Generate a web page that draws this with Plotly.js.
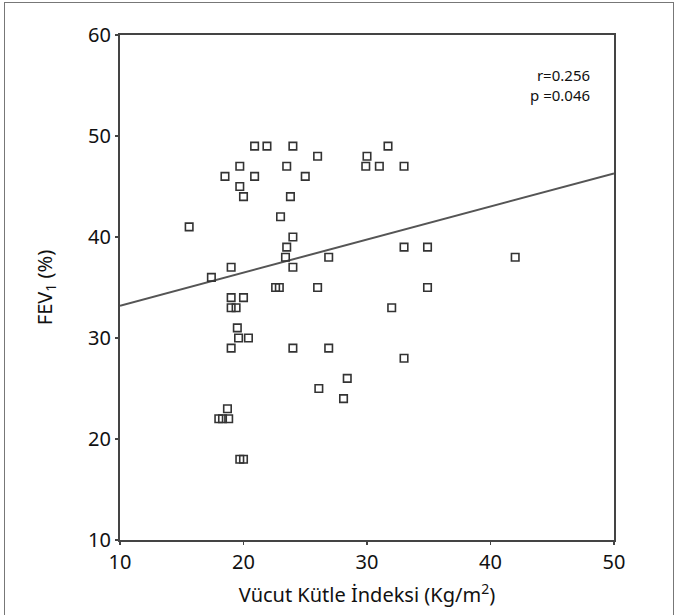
<!DOCTYPE html>
<html>
<head>
<meta charset="utf-8">
<script src="https://cdn.plot.ly/plotly-3.0.1.min.js"></script>
<style>
  html, body { margin: 0; padding: 0; background: #fff; }
  #wrap { position: relative; width: 675px; height: 615px; }
  #chart { width: 675px; height: 615px; }
  #frame { position: absolute; left: 4px; top: 2px; width: 668px; height: 620px;
           border-left: 1.5px solid #777; border-top: 1.5px solid #777; border-right: 1.5px solid #777;
           pointer-events: none; }
</style>
</head>
<body>
<div id="wrap">
  <div id="chart"></div>
  <div id="frame"></div>
</div>
<script>
// Body mass index (x) and FEV1 % (y)
const bmi = [15.6, 17.4, 18.0, 18.3, 18.8, 18.7, 18.5, 19.0, 19.0, 19.0, 19.4, 19.0, 19.5, 19.6, 20.4,
             20.0, 19.7, 19.7, 20.0, 19.7, 20.0, 20.9, 21.9, 20.9, 22.6, 22.9, 23.0, 23.4, 23.5, 23.5,
             23.8, 24.0, 24.0, 24.0, 24.0, 25.0, 26.0, 26.0, 26.1, 26.9, 26.9, 28.1, 28.4, 30.0, 29.9,
             31.0, 31.7, 33.0, 33.0, 34.9, 34.9, 32.0, 33.0, 42.0];
const fev1 = [41, 36, 22, 22, 22, 23, 46, 37, 34, 33, 33, 29, 31, 30, 30,
              34, 47, 45, 44, 18, 18, 49, 49, 46, 35, 35, 42, 38, 39, 47,
              44, 49, 40, 37, 29, 46, 48, 35, 25, 38, 29, 24, 26, 48, 47,
              47, 49, 47, 39, 39, 35, 33, 28, 38];
// Fitted regression line end points
const fitX = [10, 50];
const fitY = [33.2, 46.3];
const xTicks = [10, 20, 30, 40, 50];
const yTicks = [10, 20, 30, 40, 50, 60];
const statsText = "r=0.256<br>p =0.046";
const xTitle = "Vücut Kütle İndeksi (Kg/m<sup>2</sup>)";
const yTitle = "FEV<sub>1</sub> (%)";

const traces = [
  {
    x: fitX, y: fitY, mode: "lines", type: "scatter",
    line: { color: "#555", width: 2 }, hoverinfo: "skip", showlegend: false
  },
  {
    x: bmi, y: fev1, mode: "markers", type: "scatter",
    marker: { symbol: "square-open", size: 7.5, color: "#333", line: { width: 1.6, color: "#333" } },
    showlegend: false
  }
];

const font = "'Noto Sans', 'Open Sans', sans-serif";
const layout = {
  width: 675, height: 615,
  margin: { l: 120, r: 61, t: 35, b: 75 },
  paper_bgcolor: "#fff", plot_bgcolor: "#fff",
  font: { family: font, color: "#111" },
  xaxis: {
    range: [10, 50], tickvals: xTicks, ticktext: xTicks.map(String),
    showgrid: false, zeroline: false,
    showline: true, linecolor: "#444", linewidth: 2, mirror: true,
    ticks: "outside", ticklen: 3, tickcolor: "#444", tickwidth: 1.5,
    tickfont: { size: 20, family: font, color: "#111" },
    title: { text: xTitle, font: { size: 20, family: font, color: "#111" }, standoff: 14 }
  },
  yaxis: {
    range: [10, 60], tickvals: yTicks, ticktext: yTicks.map(String),
    showgrid: false, zeroline: false,
    showline: true, linecolor: "#444", linewidth: 2, mirror: true,
    ticks: "outside", ticklen: 3, tickcolor: "#444", tickwidth: 1.5,
    tickfont: { size: 20, family: font, color: "#111" },
    title: { text: yTitle, font: { size: 20, family: font, color: "#111" }, standoff: 30 }
  },
  annotations: [{
    xref: "paper", yref: "paper", x: 0.955, y: 0.945, xanchor: "right", yanchor: "top",
    text: statsText, showarrow: false, align: "right",
    font: { size: 15, family: font, color: "#111" }
  }]
};

Plotly.newPlot("chart", traces, layout, { displayModeBar: false, staticPlot: true });
</script>
</body>
</html>
